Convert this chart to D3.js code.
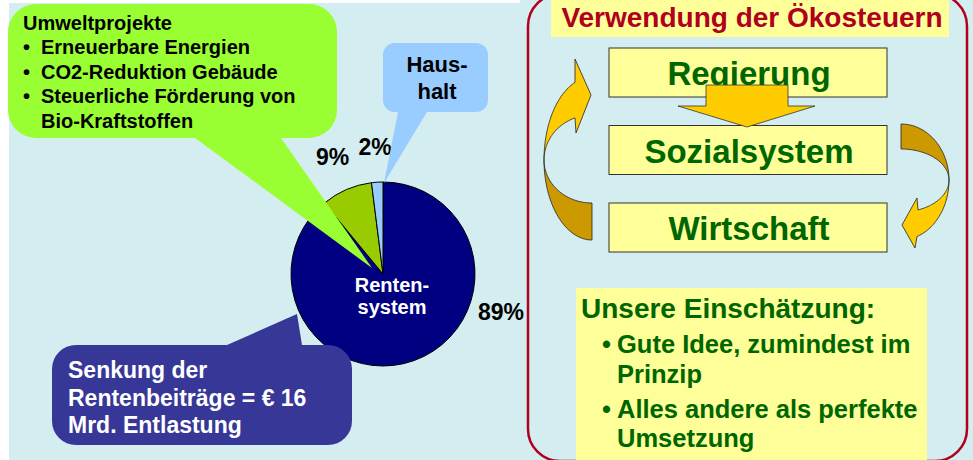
<!DOCTYPE html>
<html>
<head>
<meta charset="utf-8">
<script src="https://cdn.jsdelivr.net/npm/d3@7"></script>
<style>
	body { margin: 0; background: #ffffff; }
	svg { display: block; font-family: "Liberation Sans", Arial, sans-serif; font-weight: bold; }
</style>
</head>
<body>
<svg id="chart" width="973" height="460"></svg>
<script>

// pie data
const sliceNames = ["Rentensystem", "Umweltprojekte", "Haushalt"];
const sliceValues = [89, 9, 2];
const sliceColors = ["#000080", "#99cc00", "#99ccff"];
const centerLabel = ["Renten-", "system"];

// callout texts
const umweltTitle = "Umweltprojekte";
const umweltItems = [["Erneuerbare Energien"], ["CO2-Reduktion Gebäude"], ["Steuerliche Förderung von", "Bio-Kraftstoffen"]];
const haushaltLines = ["Haus-", "halt"];
const rentenLines = ["Senkung der", "Rentenbeiträge = € 16", "Mrd. Entlastung"];

// right panel texts
const panelTitle = "Verwendung der Ökosteuern";
const flowSteps = ["Regierung", "Sozialsystem", "Wirtschaft"];
const assessTitle = "Unsere Einschätzung:";
const assessItems = [["Gute Idee, zumindest im", "Prinzip"], ["Alles andere als perfekte", "Umsetzung"]];

const svg = d3.select("#chart");
const BG = "#d4edf1";
const GREEN_TXT = "#006600";
const RED = "#b0001e";
const YELLOW_BOX = "#ffff99";

svg.append("rect").attr("x", 9).attr("y", 3).attr("width", 964).attr("height", 457).attr("fill", BG);
svg.append("rect").attr("x", 520).attr("y", 0).attr("width", 453).attr("height", 4).attr("fill", BG);

// ---------- pie ----------
const cx = 383, cy = 274, R = 92;

const pieData = d3.pie().sort(null).value(d => d.value)(
	sliceNames.map((n, i) => ({name: n, value: sliceValues[i], color: sliceColors[i]})));

const arc = d3.arc().innerRadius(0).outerRadius(R);
const labelArc = d3.arc().innerRadius(2 * R * 0.69).outerRadius(2 * R * 0.69);

const pieG = svg.append("g").attr("transform", "translate(" + cx + "," + cy + ")");

pieG.selectAll(".slice")
	.data(pieData)
	.enter()
	.append("path")
	.classed("slice", true)
	.attr("d", arc)
	.attr("fill", d => d.data.color)
	.attr("stroke", "#000")
	.attr("stroke-width", 1);

// ---------- callouts ----------
function calloutPath(x0, y0, x1, y1, r, tail) {
	const p = d3.path();
	p.moveTo(x0 + r, y0);
	if (tail.side === "top") {
		p.lineTo(tail.a, y0);
		p.lineTo(tail.tip[0], tail.tip[1]);
		p.lineTo(tail.b, y0);
	}
	p.lineTo(x1 - r, y0);
	p.arcTo(x1, y0, x1, y0 + r, r);
	p.lineTo(x1, y1 - r);
	p.arcTo(x1, y1, x1 - r, y1, r);
	if (tail.side === "bottom") {
		p.lineTo(tail.b, y1);
		p.lineTo(tail.tip[0], tail.tip[1]);
		p.lineTo(tail.a, y1);
	}
	p.lineTo(x0 + r, y1);
	p.arcTo(x0, y1, x0, y1 - r, r);
	p.lineTo(x0, y0 + r);
	p.arcTo(x0, y0, x0 + r, y0, r);
	p.closePath();
	return p.toString();
}

// green: Umweltprojekte
svg.append("path")
	.attr("d", calloutPath(8, 4, 337, 138, 28, {side: "bottom", a: 195, b: 281, tip: [372, 268]}))
	.attr("fill", "#99ff33");

// light blue: Haushalt
svg.append("path")
	.attr("d", calloutPath(383, 43, 488, 112, 12, {side: "bottom", a: 398, b: 427, tip: [384, 183]}))
	.attr("fill", "#99ccff");

// dark blue: Rentenbeiträge
svg.append("path")
	.attr("d", calloutPath(52, 345, 352, 445, 24, {side: "top", a: 227, b: 302, tip: [297, 314]}))
	.attr("fill", "#373797");

// callout texts
const umweltG = svg.append("g").attr("font-size", 20).attr("fill", "#000");
umweltG.append("text").attr("x", 23).attr("y", 29.5).text(umweltTitle);
let line = 1;
umweltItems.forEach(item => {
	umweltG.append("text").attr("x", 23).attr("y", 29.5 + line * 24.5).text("•");
	item.forEach(t => {
		umweltG.append("text").attr("x", 41).attr("y", 29.5 + line * 24.5).text(t);
		line++;
	});
});

svg.append("g").attr("font-size", 22).attr("text-anchor", "middle").attr("fill", "#000")
	.selectAll("text").data(haushaltLines).enter().append("text")
	.attr("x", 437).attr("y", (d, i) => 72 + i * 27).text(d => d);

svg.append("g").attr("font-size", 23).attr("fill", "#fff")
	.selectAll("text").data(rentenLines).enter().append("text")
	.attr("x", 68).attr("y", (d, i) => 378 + i * 27.5).text(d => d);

// center label of the pie
pieG.append("g").attr("font-size", 20).attr("fill", "#fff").attr("text-anchor", "middle")
	.selectAll("text").data(centerLabel).enter().append("text")
	.attr("x", 9).attr("y", (d, i) => 18 + i * 22).text(d => d);

// percentage labels
pieG.selectAll(".pct")
	.data(pieData)
	.enter()
	.append("text")
	.classed("pct", true)
	.attr("font-size", 23)
	.attr("text-anchor", "middle")
	.attr("fill", "#000")
	.attr("transform", (d, i) => {
		if (i === 0) return "translate(" + (R + 26) + "," + 46 + ")";
		const c = labelArc.centroid(d);
		return "translate(" + c[0] + "," + (c[1] + 8) + ")";
	})
	.text(d => d.value + "%");

// ---------- right panel ----------
svg.append("rect")
	.attr("x", 528).attr("y", -6).attr("width", 439).attr("height", 467)
	.attr("rx", 32).attr("ry", 32)
	.attr("fill", "none").attr("stroke", RED).attr("stroke-width", 2.5);

svg.append("rect")
	.attr("x", 551).attr("y", 0).attr("width", 398).attr("height", 37)
	.attr("fill", YELLOW_BOX);
svg.append("text")
	.attr("x", 752).attr("y", 27).attr("text-anchor", "middle")
	.attr("font-size", 28).attr("fill", RED)
	.text(panelTitle);

// flow boxes
const boxX = 609, boxW = 278, boxH = 49;
const boxY = d3.scalePoint().domain(flowSteps).range([48, 203]);

const boxG = svg.selectAll(".step")
	.data(flowSteps)
	.enter()
	.append("g")
	.classed("step", true)
	.attr("transform", d => "translate(" + boxX + "," + boxY(d) + ")");

boxG.append("rect")
	.attr("width", boxW).attr("height", boxH)
	.attr("fill", YELLOW_BOX).attr("stroke", "#333").attr("stroke-width", 1);

boxG.append("text")
	.attr("x", boxW / 2 + 1).attr("y", 37)
	.attr("text-anchor", "middle").attr("font-size", 33).attr("fill", GREEN_TXT)
	.text(d => d);

// down arrow between first and second box
const ax = boxX + boxW / 2 - 1;
const downArrow = [[ax - 41, 85], [ax + 41, 85], [ax + 41, 106], [ax + 68, 106], [ax, 127], [ax - 69, 106], [ax - 41, 106]];
svg.append("path")
	.attr("d", d3.line()(downArrow) + "Z")
	.attr("fill", "#ffcc00").attr("stroke", "#333").attr("stroke-width", 0.8);

// curved arrows built from ellipse arcs
function ellPts(ecx, ecy, rx, ry, t0, t1, n = 40) {
	return d3.range(n + 1).map(k => {
		const t = t0 + (t1 - t0) * k / n;
		return [ecx + rx * Math.cos(t), ecy + ry * Math.sin(t)];
	});
}
const PI = Math.PI;
const lineGen = d3.line();

// left arrow: from Wirtschaft up to Regierung
{
	const ex = 592, ey = 160, rx = 48;
	const tO = PI + Math.acos((ex - 575) / rx);
	const tI = PI + Math.acos((ex - 575) / rx);
	const back = ellPts(ex, ey, rx, 80, PI, PI / 2).concat(ellPts(ex, ey, rx, 43, PI / 2, PI));
	svg.append("path").attr("d", lineGen(back) + "Z")
		.attr("fill", "#cc9900").attr("stroke", "#222").attr("stroke-width", 0.8);
	const front = ellPts(ex, ey, rx, 83, PI, tO)
		.concat([[575, 59], [591, 95], [576, 133]])
		.concat(ellPts(ex, ey, rx, 45, tI, PI));
	svg.append("path").attr("d", lineGen(front) + "Z")
		.attr("fill", "#ffcc00").attr("stroke", "#222").attr("stroke-width", 0.8);
}

// right arrow: from Sozialsystem down to Wirtschaft
{
	const ex = 901, ey = 180, rx = 48;
	const back = ellPts(ex, ey, rx, 56, -PI / 2, 0).concat(ellPts(ex, ey, rx, 31, 0, -PI / 2));
	svg.append("path").attr("d", lineGen(back) + "Z")
		.attr("fill", "#cc9900").attr("stroke", "#222").attr("stroke-width", 0.8);
	const tO = Math.acos((917 - ex) / rx);
	const tI = Math.acos((918 - ex) / rx);
	const front = ellPts(ex, ey, rx, 60, 0, tO)
		.concat([[915, 248], [902, 225], [917, 198]])
		.concat(ellPts(ex, ey, rx, 32, tI, 0));
	svg.append("path").attr("d", lineGen(front) + "Z")
		.attr("fill", "#ffcc00").attr("stroke", "#222").attr("stroke-width", 0.8);
}

// assessment box
svg.append("rect")
	.attr("x", 576).attr("y", 288).attr("width", 351).attr("height", 172)
	.attr("fill", YELLOW_BOX);

const assessG = svg.append("g").attr("fill", GREEN_TXT);
assessG.append("text").attr("x", 581).attr("y", 318).attr("font-size", 28).text(assessTitle);

const assessBase = [353, 383, 418, 447];
let al = 0;
assessItems.forEach(item => {
	assessG.append("text").attr("x", 602).attr("y", assessBase[al]).attr("font-size", 25.5).text("•");
	item.forEach(t => {
		assessG.append("text").attr("x", 617).attr("y", assessBase[al]).attr("font-size", 25.5).text(t);
		al++;
	});
});

</script>
</body>
</html>
